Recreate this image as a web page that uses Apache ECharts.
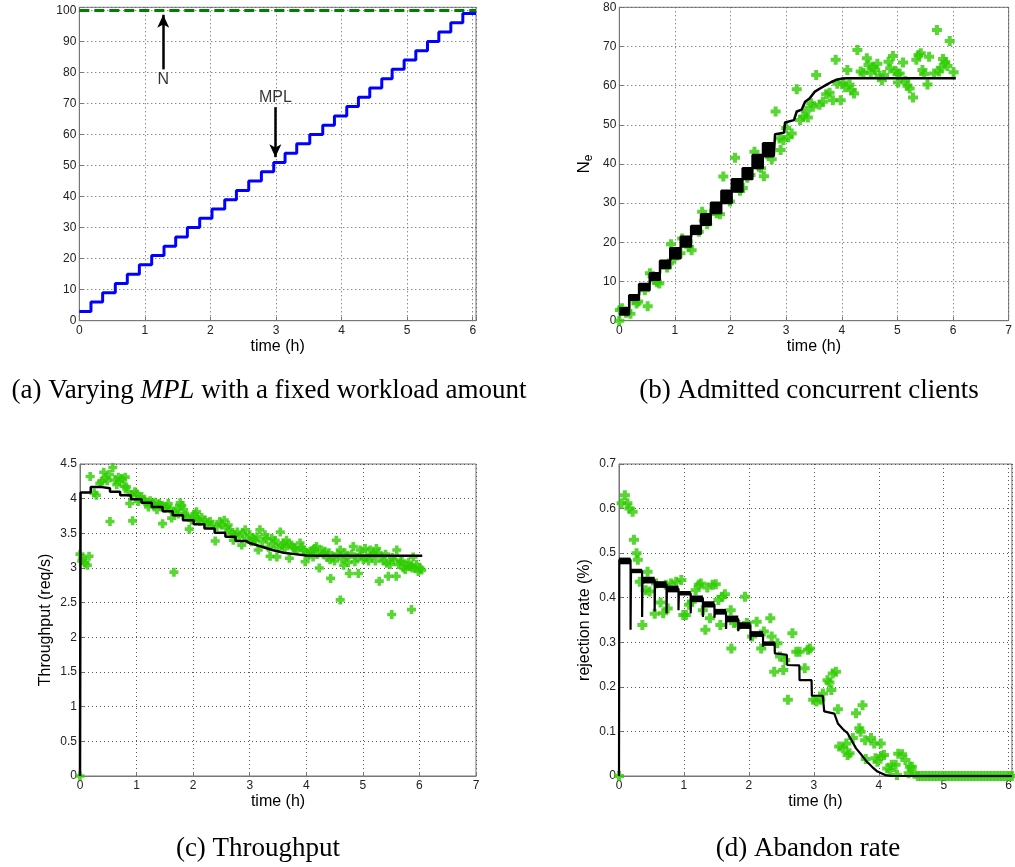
<!DOCTYPE html>
<html><head><meta charset="utf-8">
<script src="https://cdn.jsdelivr.net/npm/echarts@6/dist/echarts.min.js"></script>
<style>html,body{margin:0;padding:0;background:#fff}#c{width:1015px;height:867px}</style>
</head><body><div id="c"></div>
<script>
// ---------- (a) MPL step schedule ----------
const mplTimes = [0,0.178,0.356,0.549,0.732,0.916,1.104,1.292,1.470,1.648,1.836,2.024,2.218,2.396,2.584,2.777,2.965,3.138,3.316,3.515,3.713,3.891,4.079,4.257,4.430,4.613,4.771,4.954,5.132,5.310,5.483,5.666,5.849];
const mplValues = [3,6,9,12,15,18,21,24,27,30,33,36,39,42,45,48,51,54,57,60,63,66,69,72,75,78,81,84,87,90,93,96,99];
const tEnd = 6.05;
const nWorkload = 100;
const annotText = ['N', 'MPL'];
const annotX = [1.28, 2.99];
const annotLabelY = [77.6, 72];
const arrowFromY = [81, 68.8];
const arrowToY = [98.6, 52.7];

// ---------- (b) admitted concurrent clients ----------
const bBandLow  = [1.5,5.3,7.8,10.4,13.4,15.9,18.9,22.1,24.4,27.4,30.0,32.9,36.1,38.9,41.9];
const bBandHigh = [3.2,6.5,9.4,12.1,15.3,18.5,21.4,24.2,27.2,30.1,33.2,36.1,38.9,42.3,45.3];
const bTail = [[2.777,41.9],[2.80,47.6],[2.83,48],[2.96,48],[2.98,50.6],[3.0,51],[3.14,51.2],[3.19,53.4],[3.28,53.9],[3.34,55.9],[3.42,56.7],[3.51,58.4],[3.6,59.2],[3.72,60.2],[3.82,61.0],[3.9,61.5],[4.0,61.8],[4.1,61.9],[6.05,61.9]];
const bMeasured = [[0,0],[0.01,2.7],[0.05,3.2],[0.12,2.0],[0.14,2.3],[0.2,1.8],[0.26,5.4],[0.31,4.4],[0.34,4.9],[0.46,7.8],[0.51,3.7],[0.55,12.1],[0.6,11.3],[0.63,10.4],[0.68,9.8],[0.72,9.5],[0.86,13.6],[0.89,14.6],[0.93,19.5],[0.99,15.9],[1.04,16.8],[1.1,17.2],[1.13,21.0],[1.23,20.2],[1.25,18.9],[1.3,18.0],[1.36,23.1],[1.43,22.7],[1.49,27.8],[1.52,25.5],[1.58,24.6],[1.7,28.0],[1.75,27.4],[1.81,27.2],[1.87,36.8],[1.99,30.4],[2.08,41.6],[2.17,33.2],[2.22,33.9],[2.3,36.5],[2.36,37.2],[2.43,43.1],[2.51,39.3],[2.55,38.9],[2.6,36.9],[2.66,42.5],[2.7,43.2],[2.74,41.2],[2.81,53.4],[2.88,46.5],[2.9,43.6],[2.95,46.1],[3.0,49.2],[3.04,46.8],[3.1,47.8],[3.19,59.1],[3.25,51.2],[3.31,52.1],[3.36,53.6],[3.39,51.9],[3.45,55.5],[3.48,54.6],[3.54,62.7],[3.6,55.1],[3.66,55.9],[3.72,57.8],[3.78,58.2],[3.84,56.3],[3.89,66.6],[3.92,60.5],[3.98,56.3],[4.02,60.8],[4.06,59.6],[4.1,64.0],[4.14,60.3],[4.18,58.9],[4.22,58.0],[4.28,69.1],[4.34,63.6],[4.39,63.2],[4.45,67.0],[4.48,65.3],[4.52,63.4],[4.56,64.8],[4.6,64.0],[4.64,65.6],[4.68,62.5],[4.72,61.4],[4.76,62.7],[4.84,66.1],[4.87,64.4],[4.92,67.6],[4.96,63.8],[5.0,62.9],[5.01,60.8],[5.04,63.1],[5.1,65.9],[5.14,61.2],[5.18,60.0],[5.22,59.3],[5.28,57.0],[5.34,66.6],[5.38,67.8],[5.42,68.3],[5.45,64.0],[5.48,63.0],[5.54,60.3],[5.57,67.4],[5.66,63.1],[5.71,74.2],[5.75,63.6],[5.78,64.6],[5.82,66.8],[5.86,66.0],[5.9,65.0],[5.94,71.4],[6.01,63.4]];

// ---------- (c) throughput ----------
const cModel = [[0,0],[0.01,0],[0.01,4.09],[0.19,4.09],[0.19,4.17],[0.36,4.17],[0.36,4.15],[0.53,4.15],[0.53,4.10],[0.71,4.10],[0.71,4.05],[0.9,4.05],[0.9,3.99],[1.09,3.99],[1.09,3.94],[1.27,3.94],[1.27,3.88],[1.46,3.88],[1.46,3.82],[1.64,3.82],[1.64,3.76],[1.82,3.76],[1.82,3.69],[2.01,3.69],[2.01,3.63],[2.2,3.63],[2.2,3.57],[2.38,3.57],[2.38,3.51],[2.57,3.51],[2.57,3.45],[2.75,3.45],[2.75,3.39],[2.93,3.39],[3.0,3.36],[3.2,3.31],[3.4,3.26],[3.6,3.22],[3.8,3.2],[4.0,3.18],[4.2,3.175],[6.05,3.175]];
const cMeasured = [[0,0],[0,3.2],[0.03,3.1],[0.05,3.14],[0.09,3.07],[0.13,3.04],[0.16,3.17],[0.18,4.32],[0.25,4.08],[0.29,4.05],[0.35,4.22],[0.42,4.38],[0.48,4.26],[0.53,3.67],[0.58,4.45],[0.62,4.27],[0.68,4.31],[0.74,4.29],[0.8,4.31],[0.82,4.17],[0.88,3.93],[0.93,3.68],[0.97,4.1],[1.03,3.96],[1.09,4.03],[1.15,3.96],[1.21,3.88],[1.27,3.93],[1.36,3.84],[1.42,3.9],[1.46,3.64],[1.5,3.86],[1.56,3.93],[1.62,3.72],[1.66,2.94],[1.71,3.86],[1.77,3.94],[1.83,3.84],[1.86,3.76],[1.93,3.56],[1.97,3.69],[2.06,3.81],[2.12,3.67],[2.21,3.69],[2.3,3.67],[2.39,3.39],[2.47,3.67],[2.55,3.69],[2.62,3.62],[2.71,3.40],[2.78,3.52],[2.86,3.33],[2.92,3.55],[3.0,3.48],[3.06,3.43],[3.15,3.26],[3.18,3.55],[3.27,3.48],[3.36,3.17],[3.39,3.43],[3.45,3.40],[3.48,3.16],[3.54,3.52],[3.59,3.36],[3.65,3.40],[3.7,3.14],[3.74,3.33],[3.8,3.28],[3.89,3.36],[3.95,3.26],[3.98,3.09],[4.07,3.24],[4.12,3.16],[4.18,3.31],[4.23,3.0],[4.27,3.26],[4.33,3.24],[4.42,3.12],[4.43,2.85],[4.48,3.16],[4.53,3.40],[4.6,3.26],[4.6,2.54],[4.66,3.04],[4.71,3.16],[4.76,2.92],[4.83,3.31],[4.86,3.09],[4.92,2.92],[4.95,3.26],[5.01,3.12],[5.07,3.16],[5.13,3.26],[5.19,3.21],[5.24,3.28],[5.29,2.81],[5.33,3.16],[5.42,3.07],[5.45,2.88],[5.51,2.33],[5.54,3.12],[5.59,2.88],[5.6,3.26],[5.66,3.09],[5.72,3.0],[5.78,3.04],[5.84,3.02],[5.86,2.40],[5.89,3.16],[5.92,3.0],[5.98,2.95],[6.04,2.97],
  [0.38,4.25],[0.45,4.3],[0.52,4.35],[0.65,4.2],[0.7,4.25],[0.78,4.18],[0.85,4.1],[0.92,4.05],[1.0,4.07],[1.06,4.0],[1.12,3.98],[1.18,3.95],[1.24,3.97],[1.3,3.9],[1.33,3.95],[1.4,3.93],[1.45,3.9],[1.53,3.88],[1.6,3.85],[1.68,3.8],[1.74,3.78],[1.8,3.9],[1.9,3.75],[2.0,3.72],[2.03,3.78],[2.09,3.7],[2.15,3.73],[2.25,3.65],[2.33,3.62],[2.42,3.6],[2.5,3.62],[2.58,3.58],[2.65,3.55],[2.68,3.5],[2.74,3.48],[2.82,3.45],[2.88,3.5],[2.95,3.42],[3.03,3.38],[3.1,3.4],[3.13,3.45],[3.22,3.38],[3.3,3.42],[3.33,3.3],[3.42,3.35],[3.5,3.3],[3.57,3.32],[3.62,3.28],[3.68,3.35],[3.77,3.3],[3.83,3.25],[3.92,3.3],[4.0,3.22],[4.04,3.18],[4.1,3.25],[4.15,3.28],[4.2,3.2],[4.3,3.2],[4.37,3.15],[4.4,3.22],[4.5,3.1],[4.56,3.2],[4.63,3.13],[4.68,3.22],[4.74,3.08],[4.8,3.2],[4.9,3.15],[4.98,3.18],[5.04,3.28],[5.1,3.1],[5.16,3.18],[5.22,3.1],[5.27,3.22],[5.36,3.1],[5.4,3.2],[5.48,3.05],[5.52,3.15],[5.63,3.05],[5.69,3.1],[5.75,2.98],[5.81,3.08],[5.87,3.0],[5.95,3.05],[6.01,3.0]];

// ---------- (d) rejection rate ----------
const dBandLow  = [0.475,0.455,0.432,0.422,0.412,0.405,0.39,0.378,0.362,0.345,0.33,0.312,0.292];
const dBandHigh = [0.49,0.465,0.447,0.437,0.427,0.415,0.405,0.392,0.375,0.36,0.345,0.325,0.302];
const dModel = [[0,0],[0.005,0.485],[0.178,0.485],[0.178,0.328],[0.185,0.46],[0.356,0.46],[0.356,0.357],[0.362,0.44],[0.549,0.44],[0.549,0.369],[0.555,0.43],[0.732,0.43],[0.732,0.365],[0.738,0.42],[0.916,0.42],[0.916,0.372],[0.922,0.41],[1.104,0.41],[1.104,0.365],[1.11,0.398],[1.292,0.398],[1.292,0.357],[1.298,0.385],[1.47,0.385],[1.47,0.355],[1.476,0.368],[1.648,0.368],[1.648,0.33],[1.654,0.352],[1.836,0.352],[1.836,0.325],[1.842,0.338],[2.024,0.338],[2.024,0.305],[2.03,0.318],[2.218,0.318],[2.218,0.29],[2.224,0.298],[2.396,0.298],[2.40,0.275],[2.584,0.272],[2.59,0.249],[2.777,0.248],[2.78,0.215],[2.965,0.215],[2.97,0.18],[3.138,0.18],[3.16,0.145],[3.316,0.14],[3.37,0.118],[3.45,0.105],[3.52,0.096],[3.6,0.075],[3.65,0.062],[3.72,0.05],[3.8,0.035],[3.9,0.02],[3.98,0.01],[4.1,0.002],[4.2,0],[6.05,0]];
const dMeasured = [[0,0],[0.04,0.612],[0.09,0.63],[0.13,0.612],[0.16,0.60],[0.21,0.593],[0.23,0.53],[0.27,0.50],[0.29,0.485],[0.32,0.436],[0.36,0.339],[0.41,0.417],[0.44,0.458],[0.47,0.414],[0.55,0.364],[0.57,0.432],[0.64,0.389],[0.68,0.365],[0.72,0.429],[0.75,0.376],[0.80,0.432],[0.88,0.436],[0.96,0.44],[0.99,0.361],[1.03,0.361],[1.08,0.384],[1.12,0.391],[1.18,0.417],[1.23,0.429],[1.26,0.432],[1.29,0.372],[1.33,0.328],[1.36,0.423],[1.40,0.354],[1.44,0.429],[1.49,0.43],[1.53,0.395],[1.56,0.339],[1.59,0.402],[1.63,0.408],[1.72,0.372],[1.73,0.286],[1.77,0.343],[1.84,0.339],[1.94,0.402],[1.97,0.343],[2.05,0.313],[2.12,0.346],[2.19,0.286],[2.23,0.324],[2.33,0.354],[2.35,0.313],[2.39,0.234],[2.44,0.298],[2.48,0.268],[2.53,0.238],[2.56,0.26],[2.6,0.171],[2.67,0.32],[2.73,0.279],[2.78,0.279],[2.86,0.242],[2.91,0.283],[2.94,0.286],[2.99,0.171],[3.04,0.167],[3.10,0.171],[3.14,0.185],[3.21,0.215],[3.24,0.21],[3.27,0.193],[3.29,0.23],[3.34,0.234],[3.37,0.15],[3.39,0.066],[3.45,0.062],[3.50,0.073],[3.52,0.047],[3.55,0.051],[3.60,0.085],[3.65,0.141],[3.70,0.107],[3.72,0.099],[3.75,0.159],[3.79,0.08],[3.80,0.038],[3.88,0.085],[3.93,0.073],[3.95,0.04],[3.98,0.032],[4.03,0.073],[4.04,0.045],[4.08,0.047],[4.13,0.017],[4.18,0.013],[4.2,0.025],[4.26,0.025],[4.28,0.002],[4.3,0.05],[4.36,0.049],[4.41,0.036],[4.46,0.006],[4.48,0.021],[4.51,0.021],[4.55,0.005],[4.6,0],[4.65,0],[4.7,0],[4.75,0],[4.8,0],[4.85,0],[4.9,0],[4.95,0],[5.0,0],[5.05,0],[5.1,0],[5.15,0],[5.2,0],[5.25,0],[5.3,0],[5.35,0],[5.4,0],[5.45,0],[5.5,0],[5.55,0],[5.6,0],[5.65,0],[5.7,0],[5.75,0],[5.8,0],[5.85,0],[5.9,0],[5.95,0],[6.0,0],[6.05,0]];

// ---------- helpers building library data ----------
function stepSeries(times, values, end) {
  const pts = [[times[0], values[0]]];
  for (let i = 1; i < times.length; i++) { pts.push([times[i], values[i-1]]); pts.push([times[i], values[i]]); }
  pts.push([end, values[values.length-1]]);
  return pts;
}
function bandRects(low, high) {
  return low.map((l, k) => [mplTimes[k], mplTimes[k+1], l, high[k]]);
}
function bandEdge(vals) {
  const pts = [];
  vals.forEach((v, k) => { pts.push([mplTimes[k], v]); pts.push([mplTimes[k+1], v]); });
  return pts;
}
const green = '#2ecc00';
const plus = 'path://M3,0H7V3H10V7H7V10H3V7H0V3H3Z';
const intOnly = v => Math.abs(v - Math.round(v)) < 1e-6 ? String(Math.round(v)) : '';
const tenOnly = v => Math.abs(v/10 - Math.round(v/10)) < 1e-6 ? String(Math.round(v)) : '';
const tickFont = {color:'#222', fontSize:12, fontFamily:'Liberation Sans'};
const nameFont = {color:'#000', fontSize:16, fontFamily:'Liberation Sans'};

function xAx(idx, max, fmt, showName) {
  return {type:'value', gridIndex:idx, min:0, max:max, interval:1,
    name: showName ? 'time (h)' : '', nameLocation:'middle', nameGap:18, nameTextStyle:nameFont,
    axisLine:{show:true, lineStyle:{color:'#777', width:1}},
    axisTick:{show:true, inside:true, length:4, lineStyle:{color:'#777'}},
    axisLabel:{...tickFont, margin:4, formatter: fmt || undefined, showMaxLabel:true},
    splitLine:{show:true, lineStyle:{type:[1,3], color:'#555', width:1}}};
}
function yAx(idx, max, interval, fmt, name) {
  return {type:'value', gridIndex:idx, min:0, max:max, interval:interval,
    name: name || '', nameLocation:'middle', nameGap:26, nameTextStyle:nameFont,
    axisLine:{show:true, lineStyle:{color:'#777', width:1}},
    axisTick:{show:true, inside:true, length:4, lineStyle:{color:'#777'}},
    axisLabel:{...tickFont, margin:3, formatter: fmt || undefined},
    splitLine:{show:true, lineStyle:{type:[1,3], color:'#555', width:1}}};
}
const rectRender = (params, api) => {
  const p0 = api.coord([api.value(0), api.value(3)]);
  const p1 = api.coord([api.value(1), api.value(2)]);
  return {type:'rect', shape:{x:p0[0], y:p0[1], width:p1[0]-p0[0], height:p1[1]-p0[1]}, style:{fill:'#000'}};
};
const gb = {show:true, borderColor:'#777', borderWidth:1, containLabel:false};

const option = {
  animation:false,
  backgroundColor:'#fff',
  grid:[
    {...gb, left:79.3, top:7.3, width:396.7, height:313.4},
    {...gb, left:619.3, top:7.3, width:396.7, height:313.4},
    {...gb, left:80, top:464, width:396, height:312},
    {...gb, left:619, top:464, width:397, height:312}
  ],
  xAxis:[ xAx(0, tEnd, intOnly, true), xAx(1, 7, null, true), xAx(2, 7, null, true), xAx(3, tEnd, intOnly, true) ],
  yAxis:[
    yAx(0, 101, 10, tenOnly, ''),
    Object.assign(yAx(1, 80, 10, null, '{n|N}{s|e}'), {nameTextStyle:{...nameFont, rich:{n:{fontSize:17, fontFamily:'Liberation Sans', color:'#000'}, s:{fontSize:12, fontFamily:'Liberation Sans', color:'#000', padding:[0,0,-8,0]}}}}),
    yAx(2, 4.5, 0.5, null, 'Throughput (req/s)'),
    yAx(3, 0.7, 0.1, null, 'rejection rate (%)')
  ],
  graphic:[
    {type:'text', x:269, y:391, style:{text:'(a) Varying {i|MPL} with a fixed workload amount', font:'27px "Liberation Serif"', fill:'#000', textAlign:'center', textVerticalAlign:'middle', rich:{i:{fontStyle:'italic', fontFamily:'Liberation Serif', fontSize:27, fill:'#000'}}}},
    {type:'text', x:809, y:391, style:{text:'(b) Admitted concurrent clients', font:'27px "Liberation Serif"', fill:'#000', textAlign:'center', textVerticalAlign:'middle'}},
    {type:'text', x:258, y:849, style:{text:'(c) Throughput', font:'27px "Liberation Serif"', fill:'#000', textAlign:'center', textVerticalAlign:'middle'}},
    {type:'text', x:808, y:849, style:{text:'(d) Abandon rate', font:'27px "Liberation Serif"', fill:'#000', textAlign:'center', textVerticalAlign:'middle'}}
  ],
  series:[
    // (a)
    {type:'line', xAxisIndex:0, yAxisIndex:0, showSymbol:false, data:[[0,nWorkload],[tEnd,nWorkload]],
      lineStyle:{color:'#008000', width:3, type:[10,5]}, z:3,
      markLine:{silent:true, animation:false, symbol:['none','arrow'], symbolSize:[9,13], label:{show:false},
        lineStyle:{color:'#000', width:2.5, type:'solid'},
        data: annotX.map((x,i) => [{coord:[x, arrowFromY[i]]},{coord:[x, arrowToY[i]]}])}},
    {type:'line', xAxisIndex:0, yAxisIndex:0, showSymbol:false, data:stepSeries(mplTimes, mplValues, tEnd),
      lineStyle:{color:'#0000ff', width:3}, z:4},
    {type:'scatter', xAxisIndex:0, yAxisIndex:0, symbolSize:0, silent:true,
      data: annotText.map((t,i) => ({name:t, value:[annotX[i], annotLabelY[i]]})),
      label:{show:true, position:'inside', formatter:'{b}', color:'#000', fontSize:16, fontFamily:'Liberation Sans'}},
    // (b)
    {type:'scatter', xAxisIndex:1, yAxisIndex:1, symbol:plus, symbolSize:10, itemStyle:{color:green}, data:bMeasured, z:2},
    {type:'custom', xAxisIndex:1, yAxisIndex:1, renderItem:rectRender, data:bandRects(bBandLow, bBandHigh), encode:{x:[0,1], y:[2,3]}, z:3},
    {type:'line', xAxisIndex:1, yAxisIndex:1, showSymbol:false, data:bandEdge(bBandHigh).concat(bTail), lineStyle:{color:'#000', width:2.5}, z:4},
    {type:'line', xAxisIndex:1, yAxisIndex:1, showSymbol:false, data:bandEdge(bBandLow), lineStyle:{color:'#000', width:2}, z:4},
    // (c)
    {type:'scatter', xAxisIndex:2, yAxisIndex:2, symbol:plus, symbolSize:9, itemStyle:{color:green}, data:cMeasured, z:2},
    {type:'line', xAxisIndex:2, yAxisIndex:2, showSymbol:false, data:cModel, lineStyle:{color:'#000', width:2.5}, z:4},
    // (d)
    {type:'scatter', xAxisIndex:3, yAxisIndex:3, symbol:plus, symbolSize:10, itemStyle:{color:green}, data:dMeasured, z:2},
    {type:'custom', xAxisIndex:3, yAxisIndex:3, renderItem:rectRender, data:bandRects(dBandLow, dBandHigh), encode:{x:[0,1], y:[2,3]}, z:3},
    {type:'line', xAxisIndex:3, yAxisIndex:3, showSymbol:false, data:dModel, lineStyle:{color:'#000', width:2.2}, z:4}
  ]
};
const chart = echarts.init(document.getElementById('c'), null, {renderer:'canvas'});
chart.setOption(option);
</script></body></html>
